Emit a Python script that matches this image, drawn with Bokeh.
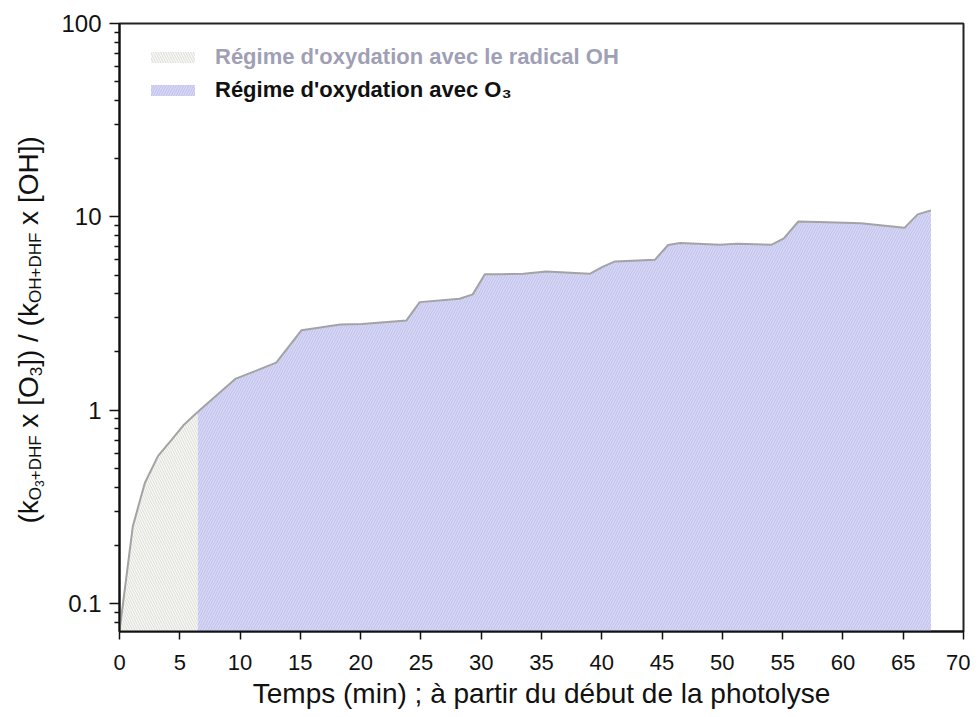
import math
from bokeh.plotting import figure
from bokeh.layouts import row
from bokeh.models import (Range1d, FixedTicker, SingleIntervalTicker, CustomJSTickFormatter,
                          Label, Legend, LegendItem)
from bokeh.embed import file_html
from bokeh.resources import INLINE

# ---- data ----
oh_time = [0.0, 1.1, 2.1, 3.2, 4.3, 5.3, 6.5]
oh_ratio = [0.072, 0.25, 0.42, 0.58, 0.70, 0.835, 0.98]
o3_time = [6.5, 9.6, 13.0, 15.1, 18.3, 20.1, 23.8, 24.9, 28.2, 29.3, 30.3, 31.6, 33.5,
           35.4, 39.0, 40.1, 41.1, 44.4, 45.5, 46.5, 49.8, 51.2, 54.1, 55.1, 56.3, 58.0,
           61.5, 65.1, 66.2, 67.3]
o3_ratio = [0.98, 1.45, 1.76, 2.59, 2.77, 2.79, 2.91, 3.62, 3.77, 3.97, 5.05, 5.05, 5.08,
            5.22, 5.07, 5.53, 5.88, 5.99, 7.15, 7.32, 7.18, 7.25, 7.18, 7.74, 9.46, 9.40,
            9.25, 8.77, 10.3, 10.8]
y_major_ticks = [0.1, 1, 10, 100]
x_label = "Temps (min) ; à partir du début de la photolyse"
legend_oh = "Régime d'oxydation avec le radical OH"
legend_o3 = "Régime d'oxydation avec O₃"

FONT = "Liberation Sans"
GRAY_FILL, GRAY_HATCH = "#f8f8f5", "#dcdcd8"
BLUE_FILL, BLUE_HATCH = "#d7d7f6", "#c0c0ea"

TOTAL_H = 717
LBL_W = 58
NB = "\u00a0"

p = figure(width=970 - LBL_W, height=TOTAL_H, x_range=Range1d(0, 70),
           y_range=Range1d(0.0716, 100), y_axis_type="log", output_backend="svg",
           toolbar_location=None, min_border_left=119 - LBL_W, min_border_right=7,
           min_border_top=23, min_border_bottom=TOTAL_H - 631)
p.background_fill_color = "white"
p.border_fill_color = "white"
p.xgrid.visible = False
p.ygrid.visible = False
p.outline_line_color = "#222222"
p.outline_line_width = 2

# regions
r_oh = p.varea(x=oh_time, y1=0.01, y2=oh_ratio, fill_color=GRAY_FILL, hatch_pattern="\\",
               hatch_color=GRAY_HATCH, hatch_scale=5, hatch_weight=1)
r_o3 = p.varea(x=o3_time, y1=0.01, y2=o3_ratio, fill_color=BLUE_FILL, hatch_pattern="/",
               hatch_color=BLUE_HATCH, hatch_scale=5, hatch_weight=1)
p.line(x=oh_time, y=oh_ratio, line_color="#a3a3a3", line_width=2)
p.line(x=o3_time, y=o3_ratio, line_color="#a3a3a3", line_width=2)

# axes
xa = p.xaxis[0]
ya = p.yaxis[0]
xa.ticker = SingleIntervalTicker(interval=5, num_minor_ticks=0)
minor = [m * 10.0 ** e for e in (-2, -1, 0, 1) for m in range(2, 10)]
ya.ticker = FixedTicker(ticks=y_major_ticks, minor_ticks=minor)
ya.formatter = CustomJSTickFormatter(code="return String(tick)")
for ax in (xa, ya):
    ax.axis_line_width = 2
    ax.axis_line_color = "#111111"
    ax.major_tick_line_color = "#111111"
    ax.minor_tick_line_color = "#111111"
    ax.major_tick_line_width = 1.5
    ax.minor_tick_line_width = 1.5
    ax.major_tick_in = 0
    ax.minor_tick_in = 0
    ax.major_label_text_font = FONT
    ax.major_label_text_color = "#111111"
xa.major_label_text_font_size = "22px"
ya.major_label_text_font_size = "24px"
xa.major_tick_out = 8
xa.major_label_standoff = 15
xa.axis_label = x_label
xa.axis_label_text_font = FONT
xa.axis_label_text_font_size = "28px"
xa.axis_label_text_font_style = "normal"
xa.axis_label_text_color = "#111111"
xa.axis_label_standoff = 5
ya.major_tick_out = 10
ya.minor_tick_out = 5
ya.major_label_standoff = 8

# legends
def make_legend(label, rend, loc, color):
    lg = Legend(items=[LegendItem(label=label, renderers=[rend])], location=loc)
    lg.glyph_width = 55
    lg.glyph_height = 14
    lg.label_height = 14
    lg.label_standoff = 15
    lg.label_text_font = FONT
    lg.label_text_font_style = "bold"
    lg.label_text_font_size = "22px"
    lg.label_text_color = color
    lg.padding = 0
    lg.margin = 0
    lg.border_line_alpha = 0
    lg.background_fill_alpha = 0
    return lg

p.add_layout(make_legend(legend_oh, r_oh, (26, 561), "#9f9fb5"))
p.add_layout(make_legend(legend_o3, r_o3, (26, 528), "#111111"))

# y-axis title (with nested subscripts) in a narrow companion figure
q = figure(width=LBL_W, height=TOTAL_H, x_range=Range1d(0, 1), y_range=Range1d(0, 1),
           output_backend="svg", toolbar_location=None, min_border=0,
           min_border_left=0, min_border_right=0, min_border_top=0, min_border_bottom=0,
           x_axis_location=None, y_axis_location=None)
q.outline_line_color = None
q.xgrid.visible = False
q.ygrid.visible = False
q.background_fill_color = "white"
q.border_fill_color = "white"

W = {"(": 333, ")": 333, "k": 500, " ": 278, NB: 278, "x": 500, "[": 278, "]": 278,
     "O": 778, "H": 722, "D": 722, "F": 611, "+": 584, "3": 556, "/": 278}
def tw(s, size):
    return sum(W[c] for c in s) * size / 1000.0

MAIN_X, SUB_X, SUBSUB_X = 27.5, 35.0, 39.0
pieces = [("(k", 28, MAIN_X), ("O", 17, SUB_X), ("3", 12, SUBSUB_X), ("+DHF", 17, SUB_X),
          (NB + "x [O", 28, MAIN_X), ("3", 17, SUB_X), ("]) / (k", 28, MAIN_X),
          ("OH+DHF", 17, SUB_X), (NB + "x [OH])", 28, MAIN_X)]
# the companion frame is aligned with the main frame (bottom at y = 631)
ypos = 631 - 523
for txt, size, xo in pieces:
    q.add_layout(Label(x=xo, y=ypos, x_units="screen", y_units="screen", text=txt,
                       angle=math.pi / 2, text_align="left", text_baseline="alphabetic",
                       text_font=FONT, text_font_size=f"{size}px", text_color="#111111"))
    ypos += tw(txt, size)

layout = row(q, p)
open("out.html", "w").write(file_html(layout, INLINE))
